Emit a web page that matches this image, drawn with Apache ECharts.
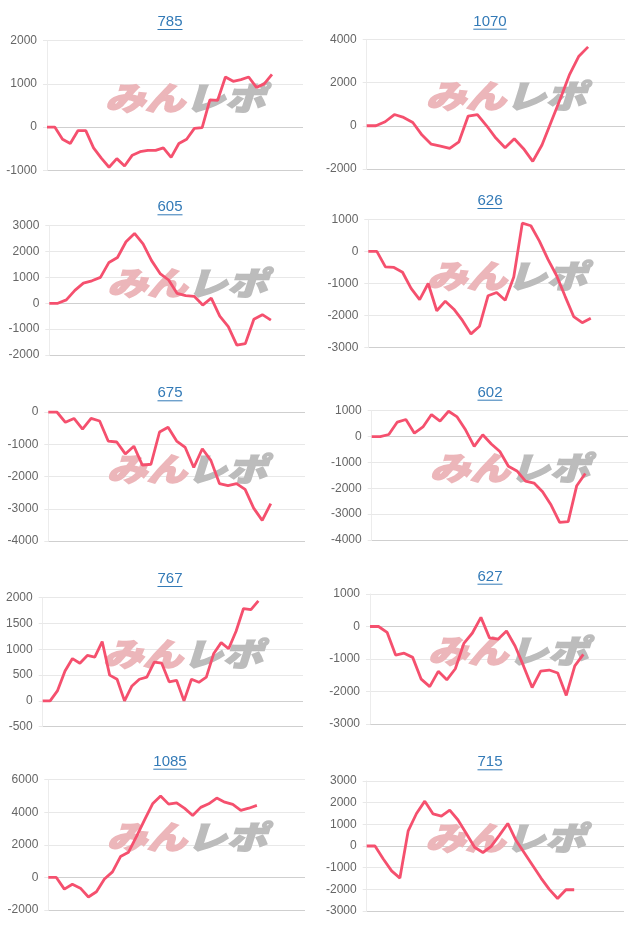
<!DOCTYPE html>
<html>
<head>
<meta charset="utf-8">
<script src="https://cdn.jsdelivr.net/npm/echarts@6/dist/echarts.min.js"></script>
<style>
html,body{margin:0;padding:0;background:#fff;}
#c{width:640px;height:931px;}
</style>
</head>
<body>
<div id="c"></div>
<script>
// ---- data ----
const titles = ['785', '1070', '605', '626', '675', '602', '767', '627', '1085', '715'];
const days = [1,2,3,4,5,6,7,8,9,10,11,12,13,14,15,16,17,18,19,20,21,22,23,24,25,26,27,28,29,30,31,32,33,34,35,36];
const xLen = [34, 29, 31, 31, 31, 31, 36, 31, 33, 32];

const s785  = [0,0,-280,-380,-80,-80,-480,-720,-930,-730,-900,-650,-570,-540,-540,-480,-700,-380,-280,-30,-10,630,620,1160,1060,1100,1160,920,1000,1220];
const s1070 = [0,0,185,520,385,150,-430,-850,-940,-1050,-740,450,520,0,-570,-1020,-600,-1060,-1650,-890,185,1260,2380,3220,3650];
const s605  = [0,0,130,500,780,870,1000,1580,1770,2380,2700,2300,1650,1150,900,380,300,270,-70,200,-500,-900,-1620,-1560,-620,-440,-650];
const s626  = [0,0,-480,-500,-650,-1150,-1500,-1000,-1850,-1550,-1800,-2150,-2570,-2330,-1380,-1280,-1520,-800,880,800,320,-250,-750,-1400,-2030,-2220,-2080];
const s675  = [0,0,-320,-200,-530,-200,-280,-900,-930,-1300,-1060,-1650,-1620,-620,-470,-900,-1100,-1720,-1140,-1500,-2220,-2280,-2220,-2400,-2980,-3360,-2840];
const s602  = [0,0,80,560,660,130,370,850,600,980,760,250,-380,70,-290,-580,-1150,-1330,-1720,-1800,-2130,-2650,-3320,-3290,-1900,-1430];
const s767  = [0,0,200,580,820,730,880,850,1150,500,420,0,290,420,460,750,730,370,400,0,420,360,460,920,1130,1010,1350,1790,1770,1940];
const s627  = [0,0,-180,-880,-820,-950,-1620,-1850,-1380,-1640,-1300,-520,-200,280,-350,-390,-140,-600,-1220,-1880,-1370,-1340,-1430,-2120,-1210,-860];
const s1085 = [0,0,-720,-420,-660,-1200,-880,-100,340,1280,1550,2520,3530,4520,5000,4500,4580,4240,3800,4300,4520,4870,4620,4480,4120,4250,4420];
const s715  = [0,0,-600,-1150,-1480,700,1500,2070,1480,1380,1660,1200,580,-60,-300,-20,500,1040,250,-320,-900,-1480,-2000,-2420,-2020,-2020];
const seriesData = [s785, s1070, s605, s626, s675, s602, s767, s627, s1085, s715];

const yMin  = [-1000, -2000, -2000, -3000, -4000, -4000, -500, -3000, -2000, -3000];
const yMax  = [2000, 4000, 3000, 1000, 0, 1000, 2000, 1000, 6000, 3000];
const yStep = [1000, 2000, 1000, 1000, 1000, 1000, 500, 1000, 2000, 1000];

// ---- layout (styles) ----
const cells = [
  {l: 47,    t: 40.7,  w: 256,   h: 129.6, tx: 170, ty: 22},
  {l: 366.7, t: 39.3,  w: 258.3, h: 129.7, tx: 490, ty: 21.7},
  {l: 49.3,  t: 225.7, w: 255.7, h: 129.3, tx: 170, ty: 207.3},
  {l: 368.3, t: 219.3, w: 256.7, h: 128.4, tx: 490, ty: 201},
  {l: 48.3,  t: 412,   w: 256.7, h: 129,   tx: 170, ty: 393.3},
  {l: 371.7, t: 410.7, w: 256.3, h: 129.3, tx: 490, ty: 392.7},
  {l: 42.7,  t: 597.7, w: 260.3, h: 129,   tx: 170, ty: 579},
  {l: 370,   t: 594,   w: 256,   h: 130,   tx: 490, ty: 576.7},
  {l: 48.3,  t: 779.7, w: 256.7, h: 130.3, tx: 170, ty: 761.7},
  {l: 366.7, t: 781,   w: 257.3, h: 130,   tx: 490, ty: 762.3}
];

const FONT = '"Liberation Sans", Arial, Helvetica, sans-serif';
const TITLE_COLOR = '#337ab7';
const LINE_COLOR = '#f5506e';

const measure = (function () {
  const cv = document.createElement('canvas').getContext('2d');
  return function (txt, size) { cv.font = size + 'px ' + FONT; return cv.measureText(txt).width; };
})();

const grid = [], xAxis = [], yAxis = [], series = [], title = [], graphic = [];

cells.forEach(function (c, i) {
  grid.push({left: c.l, top: c.t, width: c.w, height: c.h, containLabel: false});
  xAxis.push({
    gridIndex: i, type: 'category', boundaryGap: false,
    data: days.slice(0, xLen[i]),
    axisLine: {show: false}, axisTick: {show: false}, axisLabel: {show: false}, splitLine: {show: false}
  });
  const cols = [];
  for (let v = yMin[i]; v <= yMax[i] + 1e-9; v += yStep[i]) {
    cols.push((v === 0 || v === yMin[i]) ? '#cfcfcf' : '#e8e8e8');
  }
  yAxis.push({
    gridIndex: i, type: 'value', min: yMin[i], max: yMax[i], interval: yStep[i],
    axisLine: {show: true, lineStyle: {color: '#ececec', width: 1}},
    axisTick: {show: true, length: 4, lineStyle: {color: '#e8e8e8'}},
    axisLabel: {color: '#666', fontSize: 12, fontFamily: FONT, margin: 10,
      formatter: function (v) { return String(v); }},
    splitLine: {show: true, lineStyle: {color: cols, width: 1}}
  });
  series.push({
    type: 'line', xAxisIndex: i, yAxisIndex: i, data: seriesData[i],
    showSymbol: false, symbol: 'none', smooth: false, silent: true, z: 5,
    lineStyle: {color: LINE_COLOR, width: 2.8}
  });
  title.push({
    text: titles[i], link: '#', target: 'self',
    left: c.tx, top: c.ty, textAlign: 'center', textVerticalAlign: 'middle', padding: 0,
    textStyle: {color: TITLE_COLOR, fontSize: 15, fontWeight: 'normal', fontFamily: FONT}
  });
  const tw = measure(titles[i], 15);
  graphic.push({
    type: 'line', silent: true, z: 10,
    shape: {x1: c.tx - tw / 2, y1: c.ty + 7.5, x2: c.tx + tw / 2, y2: c.ty + 7.5},
    style: {stroke: TITLE_COLOR, lineWidth: 1}
  });
  // watermark logo
  const cx = c.l + c.w / 2 + 10, cy = c.t + c.h / 2 - 8;
  graphic.push({
    type: 'text', silent: true, z: 1, x: cx, y: cy, scaleY: 0.8,
    style: {text: 'みん', x: 0, y: 0, align: 'right', verticalAlign: 'middle',
      fill: '#ecb6ba', stroke: '#ecb6ba', lineWidth: 2,
      font: 'italic 900 40px "Noto Sans CJK JP"'}
  });
  graphic.push({
    type: 'text', silent: true, z: 1, x: cx, y: cy, scaleY: 0.8,
    style: {text: 'レポ', x: 0, y: 0, align: 'left', verticalAlign: 'middle',
      fill: '#bcbcbc', stroke: '#bcbcbc', lineWidth: 2,
      font: 'italic 900 40px "Noto Sans CJK JP"'}
  });
});

const chart = echarts.init(document.getElementById('c'), null, {renderer: 'canvas'});
chart.setOption({
  animation: false,
  backgroundColor: '#fff',
  title: title, grid: grid, xAxis: xAxis, yAxis: yAxis, series: series,
  graphic: {elements: graphic}
});
</script>
</body>
</html>
